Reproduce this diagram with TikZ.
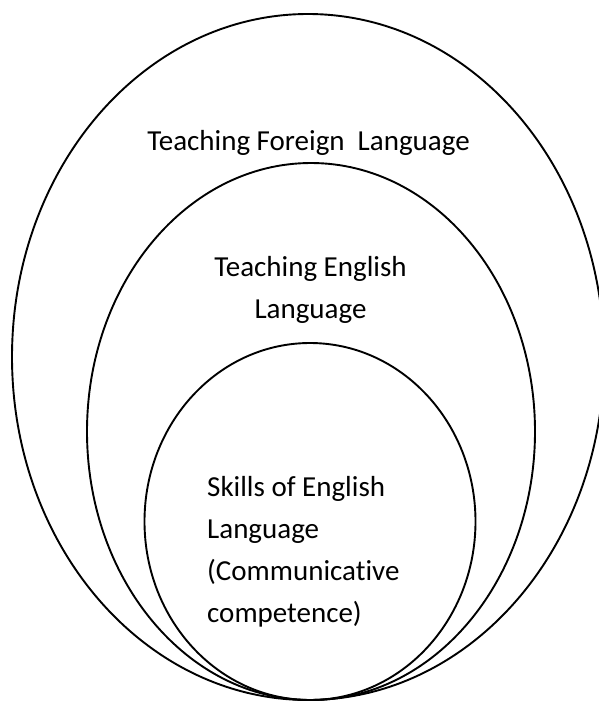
\documentclass[tikz,border=0pt]{standalone}
\usepackage{fontspec}
\setmainfont{Carlito}[Ligatures=NoCommon]
\usetikzlibrary{shapes.geometric}

\begin{document}
\begin{tikzpicture}[
    x=1pt, y=-1pt,
    field/.style={ellipse, draw=black, line width=1.9pt, inner sep=0pt},
    fieldtext/.style={font=\fontsize{29}{42}\selectfont, inner sep=0pt, anchor=base}
]

    \useasboundingbox (0,0) rectangle (598,702);

    % Fields, all touching at the bottom
    \node[field, minimum width=592pt, minimum height=686pt] (Foreign) at (308,357)   {};
    \node[field, minimum width=448pt, minimum height=537pt] (English) at (311,431.5) {};
    \node[field, minimum width=331pt, minimum height=357pt] (Skills)  at (310,521.5) {};

    % Texts (base of a multi-line node is its last line)
    \node[fieldtext] (ForeignText) at (308.5,150) {Teaching Foreign\ \ Language};
    \node[fieldtext, align=center] (EnglishText) at (310.5,318) {Teaching English\\Language};
    \node[fieldtext, align=left, anchor=base west] (SkillsText) at (207,622)
        {Skills of English\\Language\\(Communicative\\competence)};

\end{tikzpicture}
\end{document}
